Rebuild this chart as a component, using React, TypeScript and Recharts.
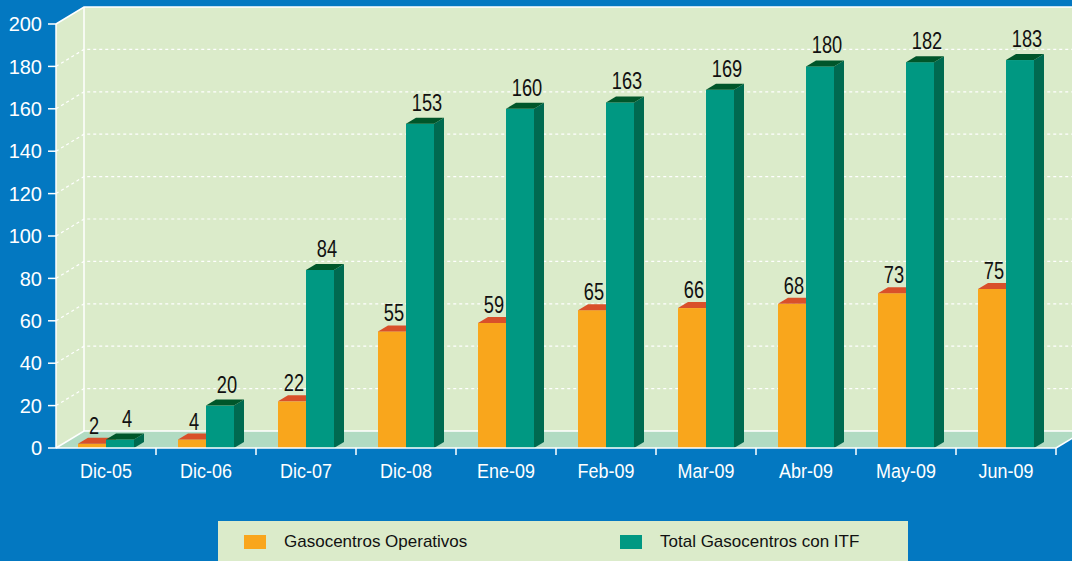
import { BarChart, Bar, XAxis, YAxis, CartesianGrid, LabelList } from 'recharts';

const categories = ['Dic-05', 'Dic-06', 'Dic-07', 'Dic-08', 'Ene-09', 'Feb-09', 'Mar-09', 'Abr-09', 'May-09', 'Jun-09'];
const operativos = [2, 4, 22, 55, 59, 65, 66, 68, 73, 75];
const totalItf = [4, 20, 84, 153, 160, 163, 169, 180, 182, 183];
const yTicks = [0, 20, 40, 60, 80, 100, 120, 140, 160, 180, 200];
const seriesNames = ['Gasocentros Operativos', 'Total Gasocentros con ITF'];

const W = 1072;
const H = 561;
const LEFT = 56;
const RIGHT = 1056;
const TOP = 24;
const BOTTOM = 448;
const DX = 28; // depth of the wall
const DY = 17;
const BLUE = '#0378c1';
const WALL = '#dbebca';
const FLOOR = '#b1dbc2';
const FONT = '"Liberation Sans", Arial, sans-serif';

const data = categories.map((name, i) => ({
  name,
  operativos: operativos[i],
  total: totalItf[i],
}));

const colors = {
  orange: { front: '#f9a61c', top: '#d9502a', side: '#c97d12' },
  green: { front: '#009882', top: '#00562a', side: '#006a50' },
};

function Bar3D(props: any, c: { front: string; top: string; side: string }) {
  const { x, y, width, height } = props;
  if (width == null || height == null) return <g />;
  const d = 10;
  const dy = 6;
  return (
    <g>
      <rect x={x} y={y} width={width} height={height} fill={c.front} />
      <polygon
        points={`${x + width},${y} ${x + width + d},${y - dy} ${x + width + d},${y + height - dy} ${x + width},${y + height}`}
        fill={c.side}
      />
      <polygon
        points={`${x},${y} ${x + d},${y - dy} ${x + width + d},${y - dy} ${x + width},${y}`}
        fill={c.top}
      />
    </g>
  );
}

// narrow label, like Arial Narrow
function makeLabel(shiftX: number, lift: number) {
  return (props: any) => {
    const { x, y, width, value } = props;
    const cx = x + width / 2 + shiftX;
    const cy = y - lift;
    return (
      <text
        transform={`translate(${cx},${cy}) scale(0.76,1)`}
        textAnchor="middle"
        fontFamily={FONT}
        fontSize={24}
        fill="#111"
      >
        {value}
      </text>
    );
  };
}

function GridLine(props: any) {
  const { y1, index } = props;
  const solid = y1 >= BOTTOM - 1 || y1 <= TOP + 1;
  return (
    <path
      key={`g-${index}`}
      d={`M${LEFT},${y1} L${LEFT + DX},${y1 - DY} L${W},${y1 - DY}`}
      fill="none"
      stroke="#fff"
      strokeWidth={solid ? 1.5 : 1.2}
      strokeDasharray={solid ? undefined : '3 3'}
    />
  );
}

function YTick(props: any) {
  const { x, y, payload } = props;
  return (
    <text x={x} y={y} dy="0.36em" textAnchor="end" fontFamily={FONT} fontSize={20} fill="#fff">
      {payload.value}
    </text>
  );
}

function XTick(props: any) {
  const { x, payload } = props;
  const half = payload.offset ?? 50;
  return (
    <g>
      <line x1={x + half} y1={BOTTOM} x2={x + half} y2={BOTTOM + 7} stroke="#fff" strokeWidth={1.5} />
      <text
        transform={`translate(${x},${BOTTOM + 30}) scale(0.92,1)`}
        textAnchor="middle"
        fontFamily={FONT}
        fontSize={19.5}
        fill="#fff"
      >
        {payload.value}
      </text>
    </g>
  );
}

function Backdrop() {
  return (
    <svg width={W} height={H} style={{ position: 'absolute', left: 0, top: 0 }}>
      <rect x={0} y={0} width={W} height={H} fill={BLUE} />
      <rect x={LEFT + DX} y={TOP - DY} width={W} height={BOTTOM - TOP} fill={WALL} />
      <polygon
        points={`${LEFT},${TOP} ${LEFT + DX},${TOP - DY} ${LEFT + DX},${BOTTOM - DY} ${LEFT},${BOTTOM}`}
        fill={WALL}
      />
      <polygon
        points={`${LEFT},${BOTTOM} ${LEFT + DX},${BOTTOM - DY} ${RIGHT + DX},${BOTTOM - DY} ${RIGHT},${BOTTOM}`}
        fill={FLOOR}
      />
      <line x1={LEFT + DX} y1={TOP - DY} x2={LEFT + DX} y2={BOTTOM - DY} stroke="#fff" strokeWidth={1.5} />
      <line x1={RIGHT} y1={BOTTOM} x2={RIGHT + DX} y2={BOTTOM - DY} stroke="#fff" strokeWidth={1.5} />
    </svg>
  );
}

function LegendBox() {
  const swatches = [colors.orange.front, colors.green.front];
  const lefts = [244, 620];
  return (
    <div
      style={{
        position: 'absolute',
        left: 218,
        top: 521,
        width: 690,
        height: 40,
        background: WALL,
        fontFamily: FONT,
        fontSize: 17,
        color: '#111',
      }}
    >
      {seriesNames.map((n, i) => (
        <div
          key={n}
          style={{ position: 'absolute', left: lefts[i] - 218, top: 14, display: 'flex', alignItems: 'center' }}
        >
          <span style={{ width: 22, height: 14, background: swatches[i], display: 'inline-block' }} />
          <span style={{ marginLeft: 18, lineHeight: '14px' }}>{n}</span>
        </div>
      ))}
    </div>
  );
}

export default function App() {
  return (
    <div style={{ position: 'absolute', left: 0, top: 0, width: W, height: H, overflow: 'hidden', background: BLUE }}>
      <Backdrop />
      <div style={{ position: 'absolute', left: 0, top: 0 }}>
        <BarChart
          width={W}
          height={H}
          data={data}
          margin={{ top: TOP, right: W - RIGHT, bottom: 83, left: 0 }}
          barSize={28}
          barGap={0}
        >
          <CartesianGrid vertical={false} horizontal={GridLine} />
          <XAxis
            dataKey="name"
            height={30}
            interval={0}
            tickLine={false}
            axisLine={{ stroke: '#fff', strokeWidth: 1.5 }}
            tick={XTick}
          />
          <YAxis
            width={LEFT}
            domain={[0, 200]}
            ticks={yTicks}
            interval={0}
            tickSize={8}
            tickMargin={6}
            tickLine={{ stroke: '#fff', strokeWidth: 1.5 }}
            axisLine={{ stroke: '#fff', strokeWidth: 1.5 }}
            tick={YTick}
          />
          <Bar
            dataKey="operativos"
            name={seriesNames[0]}
            isAnimationActive={false}
            shape={(p: any) => Bar3D(p, colors.orange)}
          >
            <LabelList dataKey="operativos" content={makeLabel(2, 10)} />
          </Bar>
          <Bar
            dataKey="total"
            name={seriesNames[1]}
            isAnimationActive={false}
            shape={(p: any) => Bar3D(p, colors.green)}
          >
            <LabelList dataKey="total" content={makeLabel(7, 13)} />
          </Bar>
        </BarChart>
      </div>
      <LegendBox />
    </div>
  );
}
